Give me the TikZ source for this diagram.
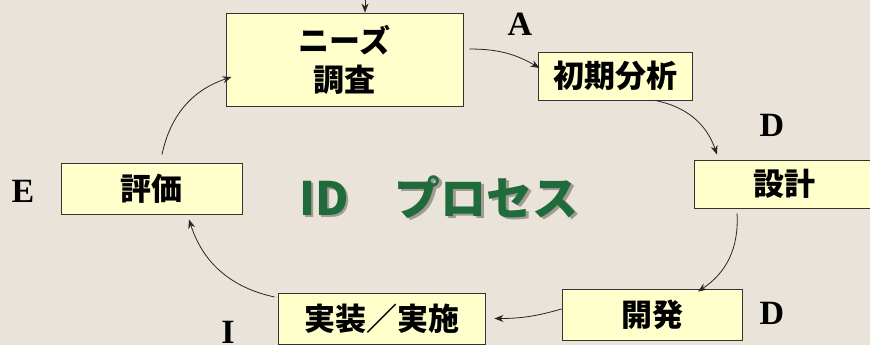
\documentclass[tikz,border=0pt]{standalone}
\usepackage{fontspec}
\usetikzlibrary{arrows.meta,calc}
\newfontfamily\jpfont{Noto Sans CJK JP}
\newfontfamily\serifb{Liberation Serif}
\definecolor{bg}{HTML}{E9E3D9}
\definecolor{boxfill}{HTML}{FFFFCC}
\definecolor{titlegreen}{HTML}{1F6B3B}
\definecolor{shadowgray}{HTML}{A09A92}
\tikzset{
  stagebox/.style={draw=black!80, line width=0.9pt, fill=boxfill, inner sep=0pt,
    font=\jpfont\bfseries\fontsize{31}{39}\selectfont, align=center},
  phase/.style={font=\serifb\bfseries\fontsize{34}{34}\selectfont, inner sep=0pt, anchor=base},
  flow/.style={-{Stealth[length=9pt,width=7pt]}, line width=0.8pt, black!85},
  titletext/.style={font=\jpfont\bfseries\fontsize{46}{46}\selectfont, inner sep=0pt},
}
\begin{document}
\begin{tikzpicture}[x=1pt,y=1pt]
\fill[bg] (0,0) rectangle (870,345);
\useasboundingbox (0,0) rectangle (870,345);

\node[stagebox, minimum width=237, minimum height=93] (needs) at (344.5,285.5) {ニーズ\\調査};
\node[stagebox, minimum width=154, minimum height=48] (init) at (615,269) {初期分析};
\node[stagebox, minimum width=180, minimum height=48] (design) at (784,161) {設計};
\node[stagebox, minimum width=180, minimum height=51] (dev) at (652,30.5) {開発};
\node[stagebox, minimum width=207, minimum height=51] (impl) at (381.5,26.5) {実装／実施};
\node[stagebox, minimum width=181, minimum height=51] (eval) at (151.5,156.5) {評価};

\node[phase] (pA) at (520,309) {A};
\node[phase] (pD1) at (772,208) {D};
\node[phase] (pE) at (23,142) {E};
\node[phase] (pD2) at (772,20) {D};
\node[phase] (pI) at (228,1) {I};

\node[titletext, text=shadowgray] (titleshadow) at (441.5,145.5) {ID　プロセス};
\node[titletext, text=titlegreen] (title) at (439,148) {ID　プロセス};

\coordinate (topin) at (365,345);
\draw[flow] (topin) -- (topin |- needs.north);
\draw[flow] ($(needs.east)+(6,10.5)$) to[bend left=15] ($(init.west)+(2,8)$);
\draw[flow] ($(init.south)+(40,0)$) to[bend left=30] ($(design.north)+(-67,5)$);
\draw[flow] ($(design.south)+(-47,-5)$) to[bend left=30] ($(dev.north)+(46,-3)$);
\draw[flow] ($(dev.west)+(0,5.5)$) to[bend left=8] ($(impl.east)+(9,0)$);
\draw[flow] ($(impl.west)+(-3,21.5)$) to[bend left=30] ($(eval.south)+(37.5,-5)$);
\draw[flow] ($(eval.north)+(10.5,8)$) to[bend left=30] ($(needs.west)+(6,-17.5)$);
\end{tikzpicture}
\end{document}
